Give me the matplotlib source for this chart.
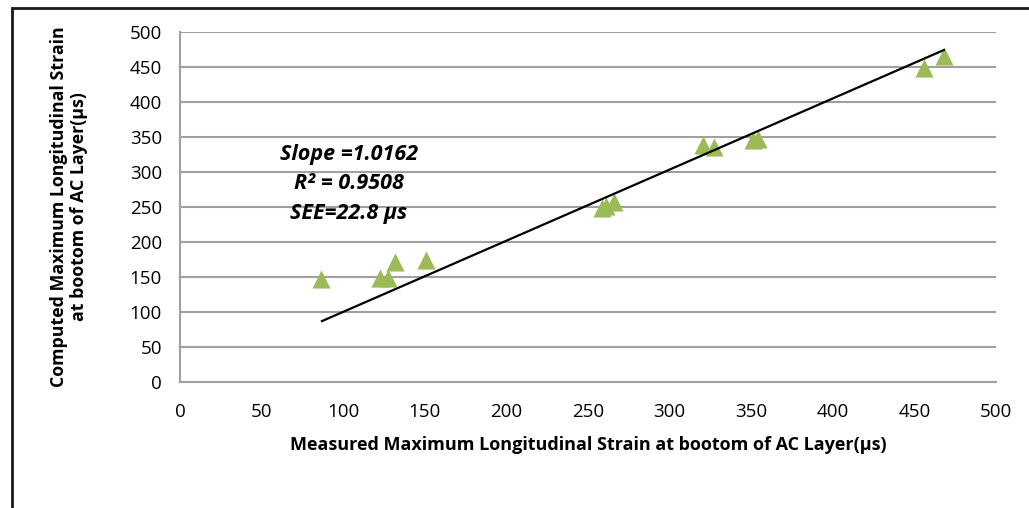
import numpy as np
import matplotlib.pyplot as plt
from matplotlib.patches import Rectangle

# Measured vs computed strain at bottom of AC layer (microstrain)
measured = [86.5, 122.5, 127.5, 131.5, 150.5, 258.5, 261, 266, 320.5, 327.5, 351, 354, 456, 468]
computed = [147, 149, 149, 171, 174, 249, 252, 257, 338, 336, 346, 347, 449, 466]

slope = 1.0162
intercept = -1.4
fit_x = [87, 468]

plt.rcParams['font.family'] = ['Open Sans', 'DejaVu Sans']

fig = plt.figure(figsize=(10.29, 5.08), dpi=100)
ax = fig.add_axes([180/1029, 1 - 382/508, 816/1029, 350/508])

# Outer chart frame
fig.patches.append(Rectangle((12/1029, -0.1), 1.2, 1 - 8/508 + 0.1,
                             transform=fig.transFigure, fill=False,
                             edgecolor='#1a1a1a', linewidth=2))

ax.scatter(measured, computed, marker='^', s=170, color='#9BBB59', zorder=3, linewidths=0)

fx = np.array(fit_x)
ax.plot(fx, slope * fx + intercept, color='black', linewidth=1.6, zorder=4)

ax.set_xlim(0, 500)
ax.set_ylim(0, 500)
ax.set_xticks(np.arange(0, 501, 50))
ax.set_yticks(np.arange(0, 501, 50))
ax.grid(axis='y', color='#a0a0a0', linewidth=1.5)
ax.set_axisbelow(True)
for side in ['top', 'right']:
    ax.spines[side].set_visible(False)
for side in ['left', 'bottom']:
    ax.spines[side].set_color('#a0a0a0')
    ax.spines[side].set_linewidth(1.5)
ax.tick_params(length=0, labelsize=13.5)
ax.tick_params(axis='x', pad=15)
ax.tick_params(axis='y', pad=13)

ax.set_xlabel('Measured Maximum Longitudinal Strain at bootom of AC Layer(µs)',
              fontsize=13, fontweight='bold', labelpad=11)
ax.set_ylabel('Computed Maximum Longitudinal Strain\nat bootom of AC Layer(µs)',
              fontsize=12.8, fontweight='bold', labelpad=30, linespacing=1.15)

ax.text(103.5, 283, 'Slope =1.0162\nR² = 0.9508\nSEE=22.8 µs', fontsize=15.5,
        fontweight='bold', fontstyle='italic', ha='center', va='center',
        linespacing=1.55)

fig.savefig('out.png', dpi=100)
